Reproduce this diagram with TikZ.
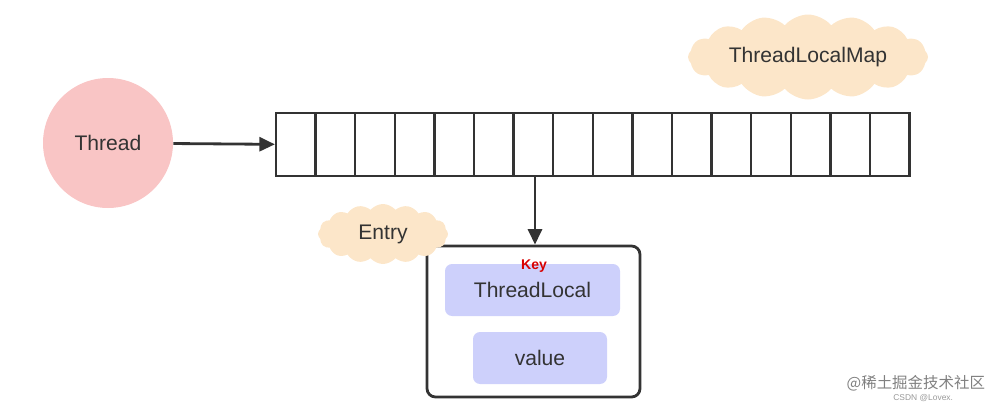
\documentclass[tikz,border=0pt]{standalone}
\usepackage{fontspec}
\setmainfont{Liberation Sans}
\newfontfamily\cjk{Noto Sans CJK SC}
\usetikzlibrary{shapes.symbols,arrows.meta}
\definecolor{threadred}{HTML}{F9C5C5}
\definecolor{cloudtan}{HTML}{FCE6C9}
\definecolor{slotblue}{HTML}{CDD0FB}
\definecolor{inkdark}{HTML}{333333}
\tikzset{
  cell/.style={draw=inkdark,line width=1.6pt,minimum width=39.6*0.025cm,minimum height=63*0.025cm,inner sep=0pt},
  note/.style={cloud,cloud puffs=16,cloud puff arc=100,cloud ignores aspect,inner sep=0pt,fill=cloudtan,draw=none,text=inkdark,font=\fontsize{15}{18}\selectfont},
  slot/.style={fill=slotblue,rounded corners=5pt,text=inkdark,font=\fontsize{15}{18}\selectfont},
  link/.style={-{Triangle[length=11pt,width=10pt]},line width=2pt,inkdark}
}
\begin{document}
\begin{tikzpicture}[x=0.025cm,y=-0.025cm]
\useasboundingbox (0,0) rectangle (1002,408);

\node[circle,fill=threadred,minimum size=130*0.025cm,text=inkdark,font=\fontsize{15}{18}\selectfont](thread) at (108,143){Thread};

\foreach \i in {1,...,16}{
  \node[cell](c\i) at ({276+39.6*(\i-0.5)},144.5){};
}

\node[note,minimum width=240*0.025cm,minimum height=85*0.025cm](map) at (808,57){ThreadLocalMap};

\draw[link](thread) -- (c1);

\node[draw=inkdark,line width=2pt,rounded corners=6pt,minimum width=213*0.025cm,minimum height=151*0.025cm](entry) at (533.5,321.5){};
\node[note,minimum width=130*0.025cm,minimum height=60*0.025cm](entrynote) at (383,234){Entry};

\node[slot,minimum width=175*0.025cm,minimum height=52*0.025cm](key) at (532.5,290){ThreadLocal};
\node[slot,minimum width=134*0.025cm,minimum height=52*0.025cm](value) at (540,358){value};
\node[text=red!85!black,font=\bfseries\fontsize{10}{12}\selectfont](keylabel) at (534,266){Key};

\coordinate (drop) at (535,176.5);
\draw[link](drop) -- (entry.north -| drop);

\node[text=gray,font=\cjk\fontsize{11}{13}\selectfont,anchor=east](wm) at (990,383){@稀土掘金技术社区};
\node[text=gray!80,font=\fontsize{6}{7}\selectfont,anchor=east](csdn) at (958,398){CSDN @Lovex.};
\end{tikzpicture}
\end{document}
